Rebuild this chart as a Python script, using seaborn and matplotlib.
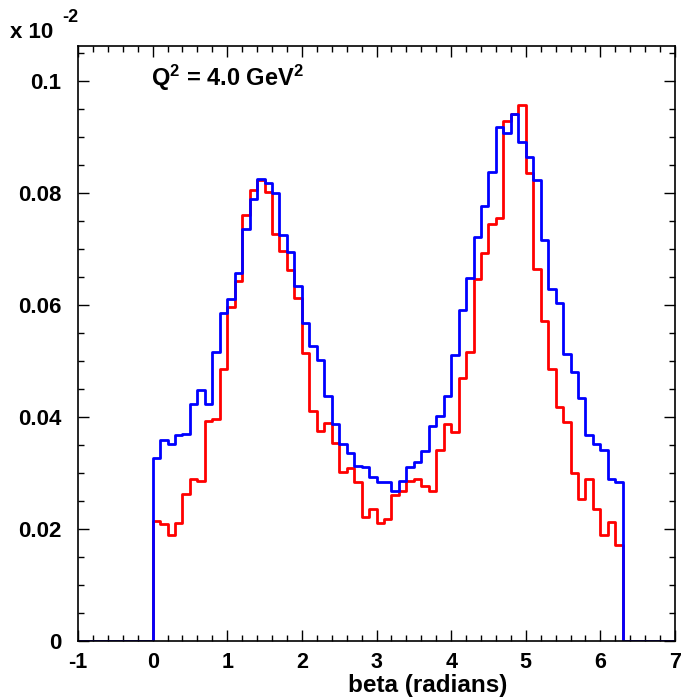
import numpy as np
import pandas as pd
import matplotlib
matplotlib.use("Agg")
import matplotlib.pyplot as plt
from matplotlib.ticker import MultipleLocator, FuncFormatter
import seaborn as sns

# ---------------- data (bin contents, units of 10^-2) ----------------
bin_lo = -1.0
bin_hi = 7.0
n_bins = 80
first_filled_bin = 10          # bin starting at beta = 0

red_vals = [0.0215, 0.0209, 0.0189, 0.0211, 0.0262, 0.0289, 0.0286, 0.0392, 0.0396, 0.0486,
            0.0596, 0.0643, 0.0760, 0.0805, 0.0822, 0.0801, 0.0726, 0.0696, 0.0662, 0.0613,
            0.0514, 0.0410, 0.0374, 0.0389, 0.0353, 0.0301, 0.0308, 0.0283, 0.0222, 0.0236,
            0.0210, 0.0217, 0.0261, 0.0268, 0.0286, 0.0289, 0.0277, 0.0267, 0.0341, 0.0388,
            0.0373, 0.0469, 0.0515, 0.0646, 0.0692, 0.0744, 0.0755, 0.0929, 0.0941, 0.0957,
            0.0835, 0.0664, 0.0571, 0.0485, 0.0418, 0.0390, 0.0299, 0.0254, 0.0290, 0.0236,
            0.0190, 0.0213, 0.0171]

blue_vals = [0.0327, 0.0359, 0.0352, 0.0367, 0.0370, 0.0423, 0.0448, 0.0423, 0.0515, 0.0586,
             0.0611, 0.0657, 0.0736, 0.0789, 0.0825, 0.0817, 0.0799, 0.0724, 0.0695, 0.0634,
             0.0567, 0.0526, 0.0502, 0.0438, 0.0388, 0.0352, 0.0335, 0.0313, 0.0310, 0.0292,
             0.0284, 0.0283, 0.0268, 0.0286, 0.0310, 0.0320, 0.0340, 0.0384, 0.0402, 0.0438,
             0.0511, 0.0591, 0.0648, 0.0721, 0.0776, 0.0837, 0.0917, 0.0906, 0.0941, 0.0891,
             0.0864, 0.0823, 0.0716, 0.0628, 0.0603, 0.0513, 0.0480, 0.0434, 0.0368, 0.0352,
             0.0341, 0.0289, 0.0283]

x_ticks = [-1, 0, 1, 2, 3, 4, 5, 6, 7]
y_ticks = [0, 0.02, 0.04, 0.06, 0.08, 0.1]
x_label = "beta (radians)"
annotation = r"Q$^{2}$ = 4.0 GeV$^{2}$"
exponent_text = ("x 10", "-2")

# ---------------- build histogram tables ----------------
edges = np.linspace(bin_lo, bin_hi, n_bins + 1)
centers = 0.5 * (edges[:-1] + edges[1:])

def full_weights(vals):
    w = np.zeros(n_bins)
    w[first_filled_bin:first_filled_bin + len(vals)] = vals
    return w

df = pd.DataFrame({"beta": centers,
                   "red": full_weights(red_vals),
                   "blue": full_weights(blue_vals)})

# ---------------- figure ----------------
sns.set_theme(style="white")
plt.rcParams["font.family"] = ["Liberation Sans", "DejaVu Sans"]
plt.rcParams["font.weight"] = "bold"
plt.rcParams["text.color"] = "black"
plt.rcParams["axes.labelcolor"] = "black"
plt.rcParams["xtick.color"] = "black"
plt.rcParams["ytick.color"] = "black"
plt.rcParams["mathtext.fontset"] = "custom"
plt.rcParams["mathtext.rm"] = "Liberation Sans:bold"
plt.rcParams["mathtext.bf"] = "Liberation Sans:bold"
plt.rcParams["mathtext.default"] = "rm"

fig = plt.figure(figsize=(6.83, 6.98), dpi=100)
ax = fig.add_axes([78 / 683, 57 / 698, 597 / 683, 595 / 698])

sns.histplot(data=df, x="beta", weights="red", bins=n_bins, binrange=(bin_lo, bin_hi),
             element="step", fill=False, color="#ff0000", linewidth=2.0, ax=ax)
sns.histplot(data=df, x="beta", weights="blue", bins=n_bins, binrange=(bin_lo, bin_hi),
             element="step", fill=False, color="#0000ff", linewidth=2.0, ax=ax)

ax.set_xlim(bin_lo, bin_hi)
ax.set_ylim(0, 0.1062)
ax.set_xticks(x_ticks)
ax.set_yticks(y_ticks)
ax.xaxis.set_minor_locator(MultipleLocator(0.2))
ax.yaxis.set_minor_locator(MultipleLocator(0.005))
ax.yaxis.set_major_formatter(FuncFormatter(lambda v, p: f"{v:g}"))
ax.xaxis.set_major_formatter(FuncFormatter(lambda v, p: f"{v:g}"))

ax.tick_params(axis="both", which="both", direction="in", top=True, right=True,
               bottom=True, left=True, colors="black", width=1.0)
ax.tick_params(axis="both", which="major", length=8)
ax.tick_params(axis="y", which="major", labelsize=16, pad=12)
ax.tick_params(axis="x", which="major", labelsize=15.5, pad=8)
ax.tick_params(axis="both", which="minor", length=4)
for lab in ax.get_xticklabels() + ax.get_yticklabels():
    lab.set_fontweight("bold")
    lab.set_color("black")

for s in ax.spines.values():
    s.set_visible(True)
    s.set_color("black")
    s.set_linewidth(1.2)

ax.set_ylabel("")
ax.set_xlabel(x_label, fontsize=17.5, fontweight="bold", ha="right", color="black")
ax.xaxis.set_label_coords((507 - 78) / 597, -(674 - 641) / 595)
ax.grid(False)

fig.text(151 / 683, 1 - 78 / 698, annotation, color="black",
         fontsize=17, fontweight="bold", ha="left", va="center")

fig.text(10 / 683, 1 - 32 / 698, exponent_text[0], fontsize=16, fontweight="bold",
         ha="left", va="center", color="black")
fig.text(62 / 683, 1 - 17 / 698, exponent_text[1], fontsize=13, fontweight="bold",
         ha="left", va="center", color="black")

fig.savefig("out.png", dpi=100, facecolor="white")
